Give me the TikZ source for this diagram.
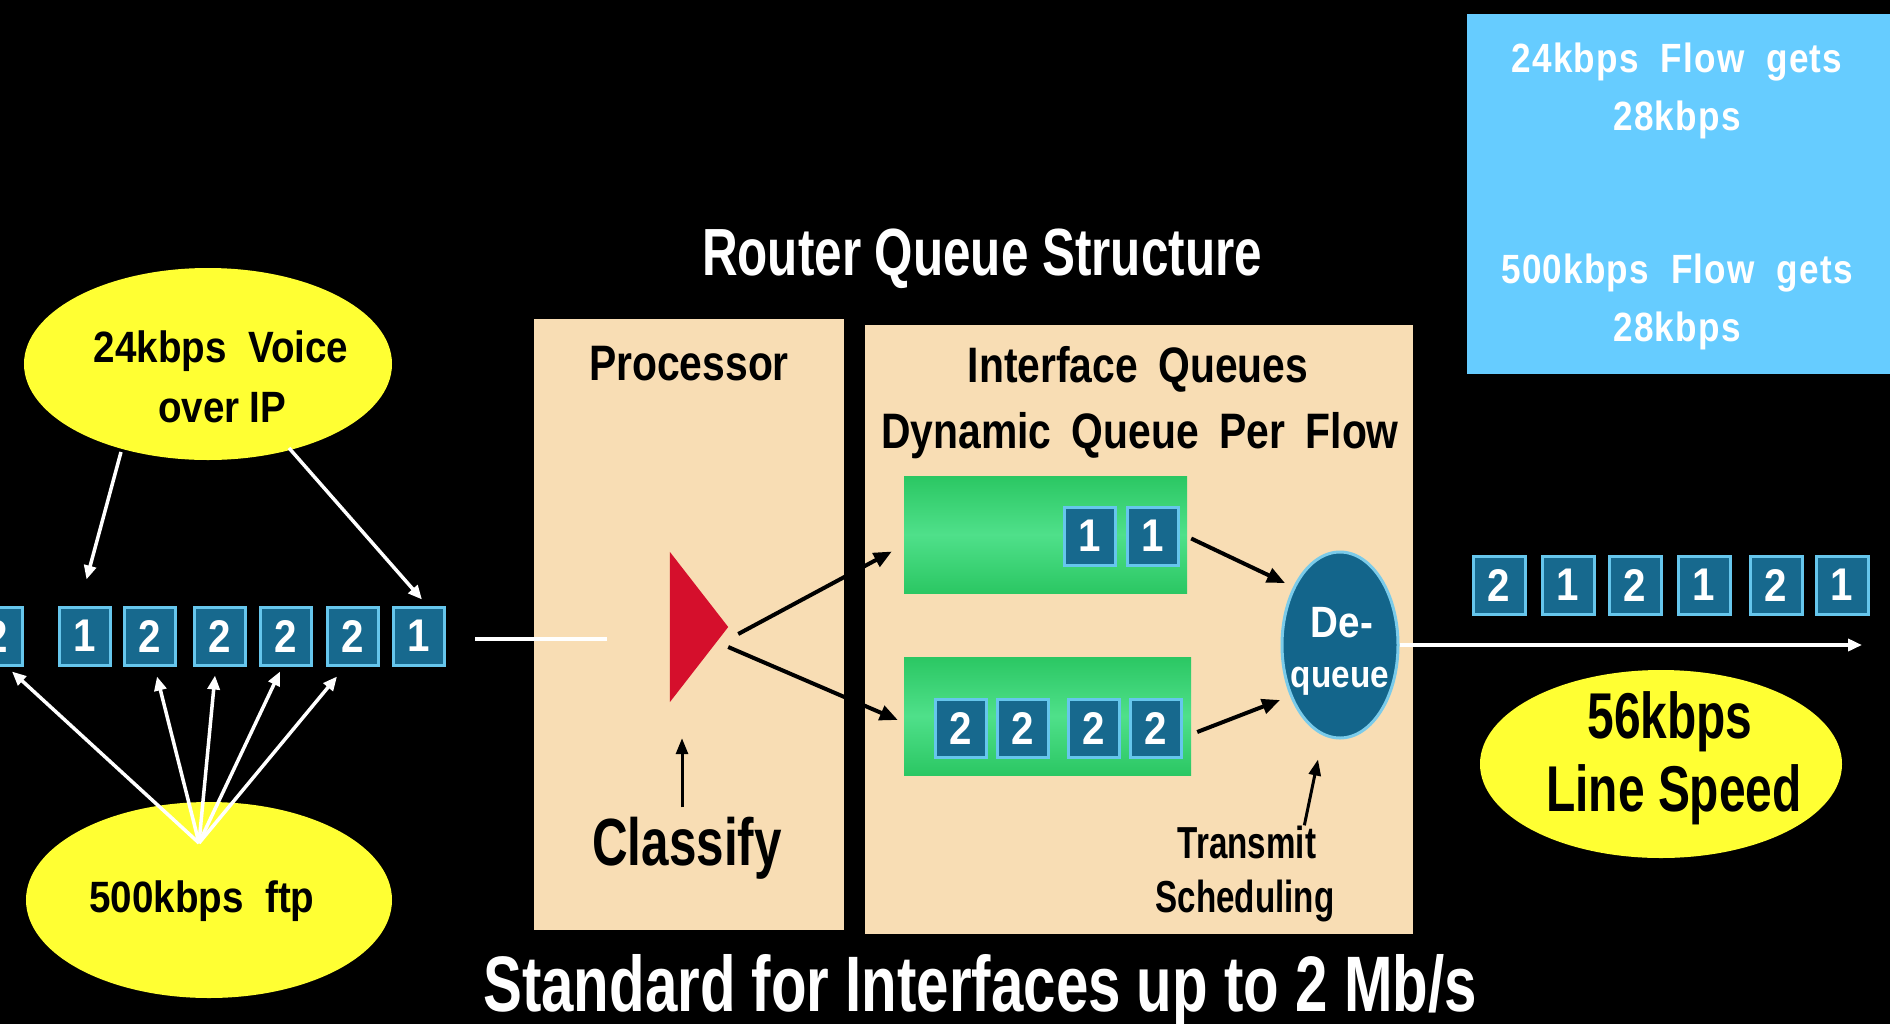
\documentclass[tikz,border=0pt]{standalone}
\usepackage{fontspec}
\setmainfont{Liberation Sans}
\newfontfamily\fA{Liberation Sans}[FakeStretch=0.74]
\newfontfamily\fB{Liberation Sans}[FakeStretch=0.74]
\newfontfamily\fC{Liberation Sans}[FakeStretch=0.82, WordSpace=1.8]
\newfontfamily\fD{Liberation Sans}[FakeStretch=0.88, WordSpace=2]
\newfontfamily\fE{Liberation Sans}[FakeStretch=0.86, WordSpace=2, LetterSpace=3]
\usetikzlibrary{arrows.meta,calc,shapes.geometric}
\definecolor{beige}{HTML}{F8DDB4}
\definecolor{pktfill}{HTML}{17698E}
\definecolor{pktedge}{HTML}{66C6EC}
\definecolor{yel}{HTML}{FFFF33}
\definecolor{infob}{HTML}{66CCFF}
\definecolor{redt}{HTML}{D50F2C}
\definecolor{gA}{HTML}{2BC763}
\definecolor{gB}{HTML}{4FE08A}
\definecolor{deqf}{HTML}{13658B}
\definecolor{deqe}{HTML}{7ACBEA}
\begin{document}
\begin{tikzpicture}[x=1bp,y=-1bp,
  pkt/.style={draw=pktedge, line width=3bp, fill=pktfill, minimum width=51bp, minimum height=58bp,
    inner sep=0pt, text=white, font=\fD\bfseries\fontsize{46}{46}\selectfont},
  yell/.style={ellipse, fill=yel, inner sep=0pt},
  bbox/.style={fill=beige, inner sep=0pt},
  queuebox/.style={inner sep=0pt, top color=gA, bottom color=gA, middle color=gB},
  lbl/.style={inner sep=0pt, anchor=base, align=center},
  warrow/.style={draw=white, line width=3.5bp, -{Triangle[length=14bp,width=12bp]}},
  barrow/.style={draw=black, line width=4bp, -{Triangle[length=18bp,width=15bp]}},
]
\useasboundingbox (0,0) rectangle (1890,1024);
\fill[black] (0,0) rectangle (1890,1024);

% title and footer
\node[lbl, text=white, font=\fA\bfseries\fontsize{67}{67}\selectfont] (title) at (982,275) {Router Queue Structure};
\node[lbl, text=white, font=\fB\bfseries\fontsize{79}{79}\selectfont] (footer) at (980,1011) {Standard for Interfaces up to 2 Mb/s};

% info box
\node[fill=infob, inner sep=0pt, minimum width=423bp, minimum height=360bp, anchor=north west] (info) at (1467,14) {};
\node[lbl, text=white, font=\fE\bfseries\fontsize{41}{41}\selectfont] (info1) at (1677,72) {24kbps Flow gets};
\node[lbl, text=white, font=\fE\bfseries\fontsize{41}{41}\selectfont] (info2) at (1677,130) {28kbps};
\node[lbl, text=white, font=\fE\bfseries\fontsize{41}{41}\selectfont] (info3) at (1677,283) {500kbps Flow gets};
\node[lbl, text=white, font=\fE\bfseries\fontsize{41}{41}\selectfont] (info4) at (1677,341) {28kbps};

% router boxes
\node[bbox, minimum width=310bp, minimum height=611bp] (proc) at (689,624.5) {};
\node[bbox, minimum width=548bp, minimum height=609bp] (iface) at (1139,629.5) {};
\node[lbl, font=\fC\bfseries\fontsize{50}{50}\selectfont] (proct) at (689,380) {Processor};
\node[lbl, font=\fC\bfseries\fontsize{50}{50}\selectfont] (ifacet1) at (1138,382) {Interface Queues};
\node[lbl, font=\fC\bfseries\fontsize{50}{50}\selectfont] (ifacet2) at (1140,448) {Dynamic Queue Per Flow};

% green queues
\node[queuebox, minimum width=283bp, minimum height=117bp] (q1) at (1045.5,534.5) {};
\node[queuebox, minimum width=287bp, minimum height=118bp] (q2) at (1047.5,716) {};
\node[pkt] (a1) at (1090,536) {1};
\node[pkt] (a2) at (1153,536) {1};
\node[pkt] (b1) at (961,728) {2};
\node[pkt] (b2) at (1023,728) {2};
\node[pkt] (b3) at (1094,728) {2};
\node[pkt] (b4) at (1156,728) {2};

% classifier triangle
\node[inner sep=0pt, minimum width=58bp, minimum height=150bp] (tri) at (699,627) {};
\fill[redt] (tri.north west) -- (tri.east) -- (tri.south west) -- cycle;
\node[lbl, font=\fA\bfseries\fontsize{67}{67}\selectfont] (cls) at (687,865) {Classify};
\draw[barrow, -{Triangle[length=16bp,width=12bp]}, line width=3bp] ($(cls.north)+(-5,-9)$) -- ($(tri.south)+(-17,36)$);

% dequeue
\node[ellipse, fill=deqf, draw=deqe, line width=3bp, minimum width=116bp, minimum height=186bp, inner sep=0pt] (deq) at (1340,645) {};
\node[lbl, text=white, font=\fD\bfseries\fontsize{44}{44}\selectfont] (deqt1) at (1342,637) {De-};
\node[lbl, text=white, font=\fD\bfseries\fontsize{38}{38}\selectfont] (deqt2) at (1340,687) {queue};
\node[lbl, font=\fA\bfseries\fontsize{45}{45}\selectfont] (trans) at (1247,858) {Transmit};
\node[lbl, font=\fA\bfseries\fontsize{45}{45}\selectfont] (sched) at (1245,912) {Scheduling};

% internal arrows
\draw[barrow] ($(tri.east)+(10,7)$) -- ($(q1.west)+(-12,17)$);
\draw[barrow] ($(tri.east)+(0,20)$) -- ($(q2.west)+(-6,4)$);
\draw[barrow] ($(q1.east)+(4,4)$) -- ($(deq.center)+(-55,-62)$);
\draw[barrow] ($(q2.east)+(6,16)$) -- ($(deq.center)+(-60,55)$);
\draw[barrow, line width=3bp, -{Triangle[length=16bp,width=12bp]}] ($(trans.north east)+(-12,0)$) -- ($(deq.south)+(-22,20)$);

% input side
\node[yell, minimum width=368bp, minimum height=192bp] (voice) at (208,364) {};
\node[lbl, font=\fD\bfseries\fontsize{44}{44}\selectfont] (voicet1) at (221,362) {24kbps Voice};
\node[lbl, font=\fD\bfseries\fontsize{44}{44}\selectfont] (voicet2) at (222,422) {over\kern0.22em IP};
\node[yell, minimum width=366bp, minimum height=196bp] (ftp) at (209,900) {};
\node[lbl, font=\fD\bfseries\fontsize{44}{44}\selectfont] (ftpt) at (202,912) {500kbps ftp};

\node[pkt] (p0) at (-3,636) {2};
\node[pkt] (p1) at (84.5,636) {1};
\node[pkt] (p2) at (150,636) {2};
\node[pkt] (p3) at (220,636) {2};
\node[pkt] (p4) at (286,636) {2};
\node[pkt] (p5) at (353,636) {2};
\node[pkt] (p6) at (419,636) {1};

\draw[warrow] ($(voice.center)+(-87,88)$) -- ($(p1.north)+(2,-26)$);
\draw[warrow] ($(voice.center)+(81,84)$) -- ($(p6.north)+(3,-6)$);
\coordinate (ftpc) at ($(ftp.center)+(-10,-57)$);
\draw[warrow] (ftpc) -- ($(p0.south)+(15,5)$);
\draw[warrow] (ftpc) -- ($(p2.south)+(7,10)$);
\draw[warrow] (ftpc) -- ($(p3.south)+(-5,9)$);
\draw[warrow] (ftpc) -- ($(p4.south)+(-6,5)$);
\draw[warrow] (ftpc) -- ($(p5.south)+(-16,10)$);

\coordinate (inA) at (475,639);
\coordinate (inB) at (607,639);
\draw[white, line width=4bp] (inA) -- (inB);

% output side
\node[pkt, minimum width=52bp] (o1) at (1499,585) {2};
\node[pkt, minimum width=52bp] (o2) at (1568,585) {1};
\node[pkt, minimum width=52bp] (o3) at (1635,585) {2};
\node[pkt, minimum width=52bp] (o4) at (1704,585) {1};
\node[pkt, minimum width=52bp] (o5) at (1776,585) {2};
\node[pkt, minimum width=52bp] (o6) at (1842,585) {1};
\coordinate (outend) at (1862,645);
\draw[warrow] (deq.east) -- (outend);

\node[yell, minimum width=362bp, minimum height=188bp] (line) at (1661,764) {};
\node[lbl, font=\fA\bfseries\fontsize{65}{65}\selectfont] (linet1) at (1670,738) {56kbps};
\node[lbl, font=\fA\bfseries\fontsize{65}{65}\selectfont] (linet2) at (1674,811) {Line Speed};
\end{tikzpicture}
\end{document}
